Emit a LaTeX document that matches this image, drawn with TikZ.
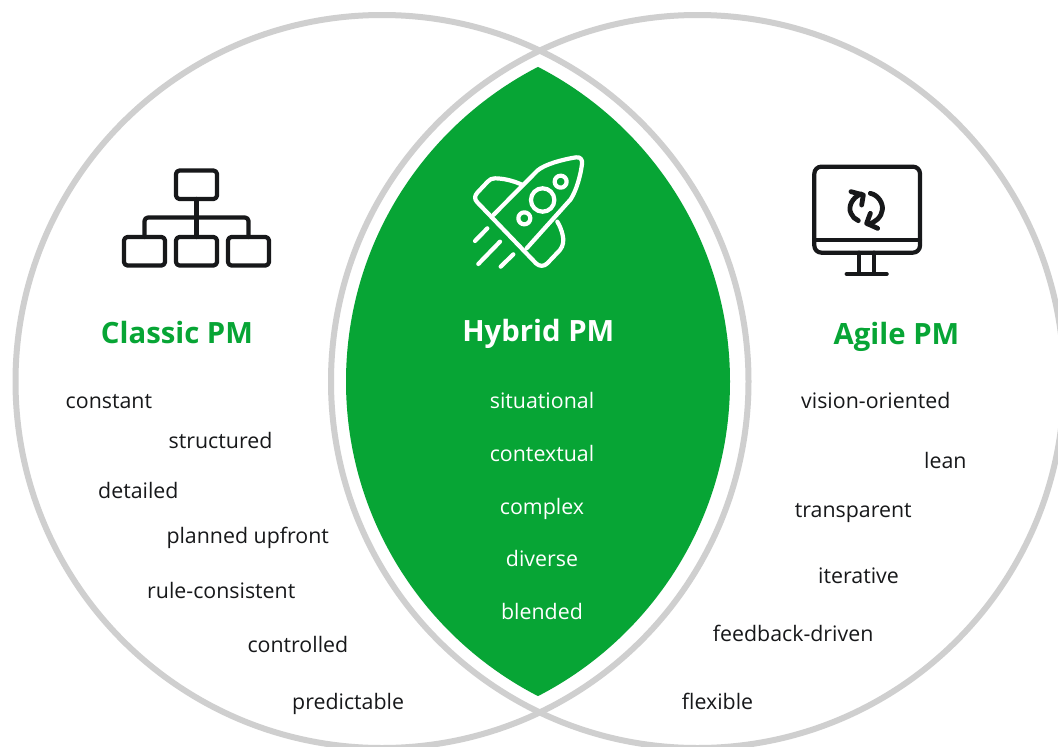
\documentclass[tikz,border=0pt]{standalone}
\usepackage{fontspec}
\setmainfont{Open Sans}
\definecolor{hgreen}{HTML}{07A535}
\definecolor{ring}{HTML}{CFCFCF}
\definecolor{ink}{HTML}{17181A}
\tikzset{
  word/.style={anchor=base west,inner sep=0pt,font=\fontsize{21.35}{26}\selectfont,text=ink},
  wordw/.style={word,anchor=base,text=white},
  headg/.style={anchor=base,inner sep=0pt,font=\fontsize{29.3}{34}\selectfont\bfseries,text=hgreen},
  headw/.style={headg,text=white},
  ringline/.style={draw=ring,line width=6pt},
  icon/.style={line width=4.2pt,line cap=round,line join=round},
  box/.style={icon,draw=ink,rounded corners=3.5pt}
}
\begin{document}
\begin{tikzpicture}[x=1pt,y=-1pt]
\useasboundingbox (0,0) rectangle (1058,747);
\begin{scope}
\clip (0,0) rectangle (1058,747);
\fill[white] (0,0) rectangle (1058,747);
\begin{scope}
  \clip (376.4,381.5) circle[radius=353.6];
  \fill[hgreen] (699.6,381.5) circle[radius=353.6];
\end{scope}
\draw[ringline] (382,381.5) circle[radius=366.5];
\draw[ringline] (697.5,381.5) circle[radius=366.5];
\end{scope}
% org chart
\draw[box] (176,170.5) rectangle (217,199);
\draw[box] (124,237) rectangle (165,265.5);
\draw[box] (176,237) rectangle (217,265.5);
\draw[box] (228,237) rectangle (269,265.5);
\draw[icon,draw=ink] (196.5,199) -- (196.5,237);
\draw[box] (144.5,237) -- (144.5,217.5) -- (248.5,217.5) -- (248.5,237);
% rocket
\begin{scope}[shift={(450,140)}]
\begin{scope}[icon,draw=white,x=0.3333pt,y=-0.3333pt]
\draw (130,225) -- (262,92) .. controls (285,72) and (340,58) .. (378,52)
  .. controls (392,50) and (398,60) .. (396,72)
  .. controls (392,105) and (380,150) .. (362,178) -- (230,325);
\draw (218,135) .. controls (190,122) and (160,115) .. (135,115)
  .. controls (125,115) and (120,118) .. (113,125)
  -- (82,158) .. controls (73,168) and (73,178) .. (82,187)
  -- (258,370) .. controls (268,380) and (282,380) .. (292,370)
  -- (330,330) .. controls (340,318) and (342,300) .. (338,285)
  .. controls (335,272) and (330,258) .. (322,245);
\draw (278,180) circle[radius=11.7pt];
\draw (332,125) circle[radius=6pt];
\draw (223,235) circle[radius=6pt];
\draw (75,303) -- (112,265);
\draw (85,372) -- (150,305);
\draw (152,380) -- (190,343);
\end{scope}
\end{scope}
% monitor
\begin{scope}[shift={(795,150)}]
\begin{scope}[icon,draw=ink,x=0.3333pt,y=-0.3333pt]
\draw[rounded corners=7pt] (58,50) rectangle (375,308);
\draw (58,270) -- (375,270);
\draw (192,308) -- (192,370);
\draw (238,308) -- (238,370);
\draw (155,372) -- (275,372);
\begin{scope}[line width=4.8pt]
\draw (198,132) .. controls (172,142) and (158,170) .. (168,190) .. controls (172,200) and (180,208) .. (190,212);
\draw (168,125) -- (205,135) -- (200,165);
\draw (226,130) .. controls (250,135) and (265,160) .. (262,180) .. controls (260,200) and (240,220) .. (218,222);
\draw (248,235) -- (215,220) -- (226,190);
\end{scope}
\end{scope}
\end{scope}
% headings
\node[headg] (classic) at (177,343.5) {Classic PM};
\node[headw] (hybrid) at (538.3,341) {Hybrid PM};
\node[headg] (agile) at (896.5,344) {Agile PM};
% left words
\node[word] (w1) at (65.5,408) {constant};
\node[word] (w2) at (168.5,448) {structured};
\node[word] (w3) at (98,498) {detailed};
\node[word] (w4) at (166.3,543) {planned upfront};
\node[word] (w5) at (147,598) {rule-consistent};
\node[word] (w6) at (247.3,652) {controlled};
\node[word] (w7) at (292,709) {predictable};
% centre words
\node[wordw] (c1) at (542,408) {situational};
\node[wordw] (c2) at (542,461) {contextual};
\node[wordw] (c3) at (542,514) {complex};
\node[wordw] (c4) at (542,566) {diverse};
\node[wordw] (c5) at (542,619) {blended};
% right words
\node[word] (r1) at (801,408) {vision-oriented};
\node[word] (r2) at (924,468) {lean};
\node[word] (r3) at (794.7,517) {transparent};
\node[word] (r4) at (818,583) {iterative};
\node[word] (r5) at (712.7,641) {feedback-driven};
\node[word] (r6) at (681.7,709) {flexible};
\end{tikzpicture}
\end{document}
